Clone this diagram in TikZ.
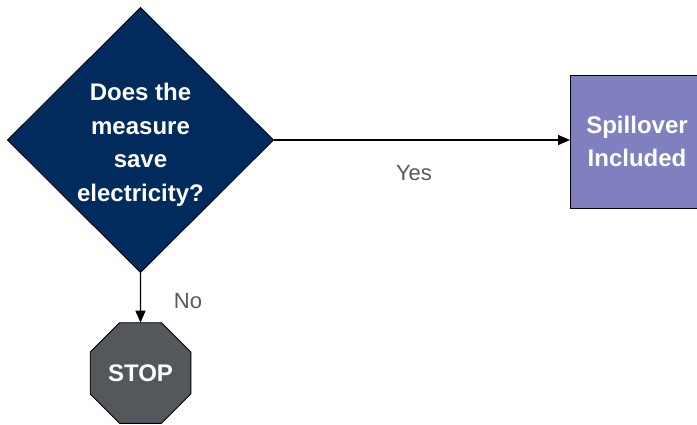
\documentclass[tikz,border=0pt]{standalone}
\usepackage{fontspec}
\setmainfont{Liberation Sans}
\usetikzlibrary{shapes.geometric,arrows.meta}
\definecolor{navy}{HTML}{002B5C}
\definecolor{lavender}{HTML}{8080C0}
\definecolor{stopgray}{HTML}{54575B}
\definecolor{labelgray}{HTML}{595959}
\begin{document}
\begin{tikzpicture}[x=1pt,y=-1pt,
  whitetext/.style={text=white,font=\bfseries\fontsize{24}{33.5}\selectfont,align=center},
  shapetext/.style={whitetext,inner sep=0pt,outer sep=0pt,draw=black,line width=0.8pt},
  decision/.style={shapetext,diamond,aspect=1,fill=navy,minimum width=266pt,minimum height=265pt},
  outcome/.style={shapetext,rectangle,fill=lavender,minimum width=134pt,minimum height=133pt},
  stopsign/.style={shapetext,regular polygon,regular polygon sides=8,fill=stopgray,minimum size=109pt},
  flow/.style={line width=1.4pt,-{Triangle[length=12pt,width=10pt]}},
  edgelabel/.style={text=labelgray,font=\fontsize{22}{26}\selectfont,inner sep=0pt}]
\useasboundingbox (0,0) rectangle (697,424);
\node[decision,label={[whitetext,yshift=-5pt]center:{Does the\\measure\\save\\electricity?}}] (q) at (140.5,140) {};
\node[outcome,anchor=west] (sp) at (570,141.5) {Spillover\\Included};
\node[stopsign] (st) at (140.5,373) {STOP};
\draw[flow] (q.east) -- (sp.west |- q.east);
\draw[flow] (q.south) -- (st.north);
\node[edgelabel] (yes) at (414,173) {Yes};
\node[edgelabel] (no) at (188,301) {No};
\end{tikzpicture}
\end{document}
